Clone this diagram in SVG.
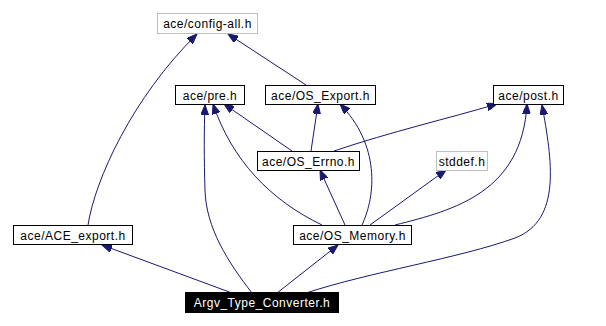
<svg xmlns="http://www.w3.org/2000/svg" width="606" height="326" viewBox="0 0 606 326">
  <style>
    .box { fill: #ffffff; stroke: #000000; stroke-width: 1; }
    .ext { fill: #ffffff; stroke: #bfbfbf; stroke-width: 1; }
    .main { fill: #000000; stroke: #000000; stroke-width: 1; }
    .lbl { font-family: "Liberation Sans", Arial, sans-serif; font-size: 12px; letter-spacing: 0.5px; text-anchor: middle; fill: #000000; }
    .lblw { fill: #ffffff; }
    .edge { fill: none; stroke: #191970; stroke-width: 1; marker-end: url(#arrow); }
  </style>
  <defs>
    <marker id="arrow" markerWidth="11" markerHeight="8" refX="10" refY="4" orient="auto" markerUnits="userSpaceOnUse">
      <path d="M0,0 L10,4 L0,8 Z" fill="#191970" stroke="#191970" stroke-width="1"/>
    </marker>
  </defs>
  <rect width="606" height="326" fill="#ffffff"/>

  <!-- include dependencies -->
  <g id="edges">
    <path class="edge" d="M232,293 L102,245"/>
    <path class="edge" d="M277,293 L338,245"/>
    <path class="edge" d="M252,293 C228,262 206,228 205,190 C204,160 204,130 205,105"/>
    <path class="edge" d="M306,293 C370,272 460,258 515,238 C562,220 552,160 542,105"/>
    <path class="edge" d="M88,225 C95,180 132,98 197,34"/>
    <path class="edge" d="M306,85 L228,34"/>
    <path class="edge" d="M292,151 L224,104"/>
    <path class="edge" d="M311,151 L318,104"/>
    <path class="edge" d="M334,151 C390,132 450,118 497,104"/>
    <path class="edge" d="M345,225 L320,170"/>
    <path class="edge" d="M370,225 L446,170"/>
    <path class="edge" d="M322,225 C270,200 232,160 213,104"/>
    <path class="edge" d="M362,225 C376,195 380,145 340,104"/>
    <path class="edge" d="M395,225 C455,210 522,192 527,104"/>
  </g>

  <g id="node-config-all">
    <rect class="ext" x="157.5" y="13.5" width="100" height="20"/>
    <text class="lbl" x="207.5" y="28">ace/config-all.h</text>
  </g>
  <g id="node-pre">
    <rect class="box" x="175.5" y="85.5" width="69" height="19"/>
    <text class="lbl" x="210" y="99.5">ace/pre.h</text>
  </g>
  <g id="node-os-export">
    <rect class="box" x="265.5" y="85.5" width="110" height="19"/>
    <text class="lbl" x="320.5" y="99.5">ace/OS_Export.h</text>
  </g>
  <g id="node-post">
    <rect class="box" x="493.5" y="85.5" width="70" height="19"/>
    <text class="lbl" x="528.5" y="99.5">ace/post.h</text>
  </g>
  <g id="node-os-errno">
    <rect class="box" x="257.5" y="151.5" width="102" height="19"/>
    <text class="lbl" x="308.5" y="165.5">ace/OS_Errno.h</text>
  </g>
  <g id="node-stddef">
    <rect class="ext" x="436.5" y="151.5" width="51" height="19"/>
    <text class="lbl" x="462" y="165.5">stddef.h</text>
  </g>
  <g id="node-ace-export">
    <rect class="box" x="13.5" y="225.5" width="119" height="19"/>
    <text class="lbl" x="73" y="239.5">ace/ACE_export.h</text>
  </g>
  <g id="node-os-memory">
    <rect class="box" x="293.5" y="225.5" width="118" height="19"/>
    <text class="lbl" x="352.5" y="239.5">ace/OS_Memory.h</text>
  </g>
  <g id="node-argv">
    <rect class="main" x="185.5" y="292.5" width="153" height="20"/>
    <text class="lbl lblw" x="262" y="307">Argv_Type_Converter.h</text>
  </g>
</svg>
